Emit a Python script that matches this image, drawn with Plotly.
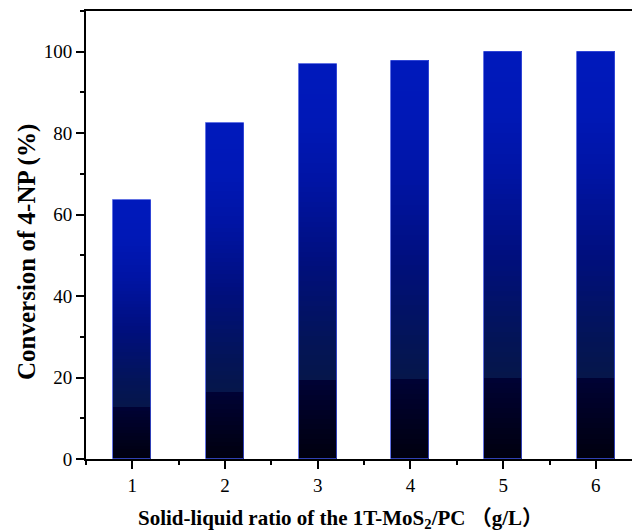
import plotly.graph_objects as go

# Data
ratios = [1, 2, 3, 4, 5, 6]
conversion = [63.5, 82.4, 97.0, 97.8, 100.0, 100.0]
y_ticks = [0, 20, 40, 60, 80, 100]

# Gradient stops (fraction of bar height -> rgb)
stops = [
    (0.0, (0, 0, 14)),
    (0.195, (0, 2, 52)),
    (0.2, (6, 22, 74)),
    (0.3, (3, 20, 88)),
    (0.5, (0, 15, 126)),
    (0.7, (0, 20, 164)),
    (0.85, (0, 24, 182)),
    (1.0, (0, 25, 188)),
]

def grad_color(t):
    for (t0, c0), (t1, c1) in zip(stops[:-1], stops[1:]):
        if t0 <= t <= t1:
            f = 0 if t1 == t0 else (t - t0) / (t1 - t0)
            c = [round(a + (b - a) * f) for a, b in zip(c0, c1)]
            return f"rgb({c[0]},{c[1]},{c[2]})"
    return "rgb(0,25,188)"

N = 80
bar_w = 0.41
fig = go.Figure()
for k in range(N):
    t = (k + 0.5) / N
    fig.add_trace(go.Bar(
        x=ratios,
        y=[v / N * 1.05 for v in conversion],
        base=[v * k / N for v in conversion],
        width=bar_w,
        marker=dict(color=grad_color(t), line=dict(width=0)),
        showlegend=False,
        hoverinfo="skip",
    ))
# outline
fig.add_trace(go.Bar(
    x=ratios, y=conversion, width=bar_w,
    marker=dict(color="rgba(0,0,0,0)", line=dict(color="rgba(60,80,220,0.8)", width=1)),
    showlegend=False,
))

font_family = "Liberation Serif, Times New Roman, serif"
fig.update_layout(
    width=632, height=531,
    margin=dict(l=86, r=0, t=11, b=72),
    barmode="overlay",
    bargap=0,
    plot_bgcolor="white",
    paper_bgcolor="white",
    font=dict(family=font_family, size=19, color="black"),
    xaxis=dict(
        range=[0.5, 6.39],
        tickmode="array", tickvals=ratios, ticktext=[str(r) for r in ratios],
        ticks="outside", ticklen=8, tickwidth=1.5, tickcolor="black",
        minor=dict(dtick=0.5, tick0=0.5, ticks="outside", ticklen=4, tickwidth=1.5, tickcolor="black", showgrid=False),
        showline=True, linecolor="black", linewidth=2, mirror=True,
        showgrid=False, zeroline=False,
        tickfont=dict(size=19),
    ),
    yaxis=dict(
        range=[0, 110],
        tickmode="array", tickvals=y_ticks,
        ticks="outside", ticklen=8, tickwidth=1.5, tickcolor="black",
        minor=dict(dtick=10, ticks="outside", ticklen=4, tickwidth=1.5, tickcolor="black", showgrid=False),
        showline=True, linecolor="black", linewidth=2, mirror=False,
        showgrid=False, zeroline=False,
        tickfont=dict(size=19),
    ),
    annotations=[
        dict(
            text="<b>Conversion of 4-NP (%)</b>",
            textangle=-90,
            xref="paper", yref="paper",
            x=(27 - 86) / 546, y=(459 - 252) / 448,
            xanchor="center", yanchor="middle",
            showarrow=False,
            font=dict(size=25, family=font_family, color="black"),
        ),
        dict(
            text="<b>Solid-liquid ratio of the 1T-MoS<sub>2</sub>/PC （g/L）</b>",
            xref="paper", yref="paper",
            x=(340 - 86) / 546, y=(459 - 519) / 448,
            xanchor="center", yanchor="middle",
            showarrow=False,
            font=dict(size=21, family=font_family + ", Noto Sans CJK SC", color="black"),
        ),
    ],
)
fig.write_html("out.html")
